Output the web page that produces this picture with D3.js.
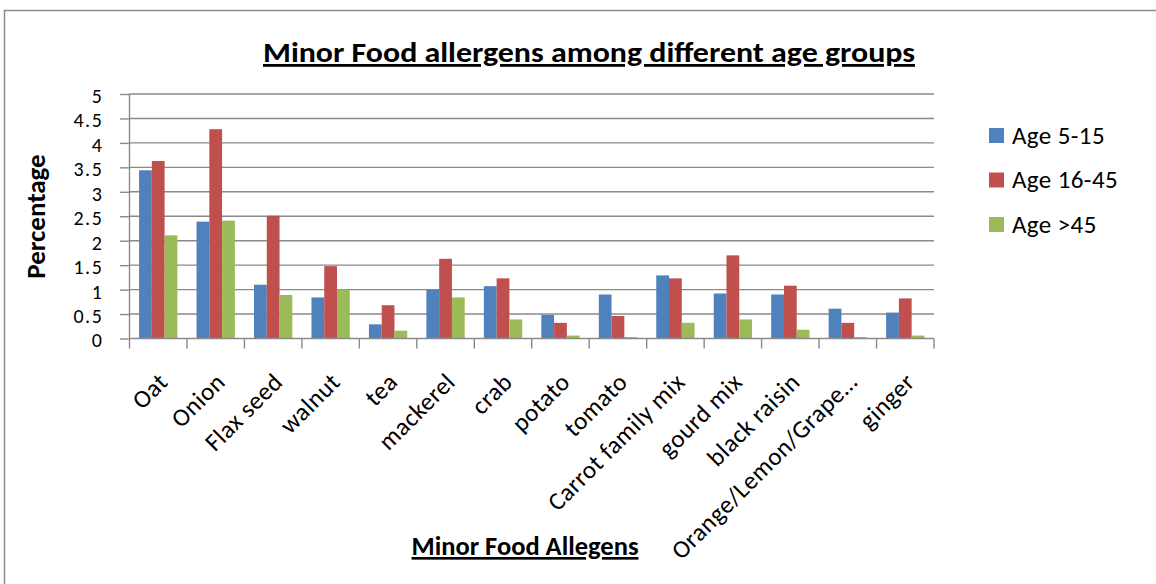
<!DOCTYPE html>
<html><head><meta charset="utf-8">
<script src="https://cdn.jsdelivr.net/npm/d3@7"></script>
<style>
html,body{margin:0;padding:0;background:#fff;}
text{font-family:Carlito,Calibri,Lato,"Open Sans",sans-serif;fill:#000;}
</style></head>
<body>
<svg id="chart" width="1156" height="584"></svg>
<script>
const categories = ["Oat","Onion","Flax seed","walnut","tea","mackerel","crab","potato","tomato","Carrot family mix","gourd mix","black raisin","Orange/Lemon/Grape…","ginger"];
const seriesNames = ["Age 5-15","Age 16-45","Age >45"];
const age5to15  = [3.44,2.39,1.10,0.84,0.29,1.00,1.07,0.48,0.90,1.29,0.92,0.90,0.61,0.53];
const age16to45 = [3.63,4.28,2.51,1.48,0.68,1.63,1.23,0.32,0.46,1.23,1.70,1.08,0.32,0.82];
const ageOver45 = [2.11,2.41,0.89,1.00,0.16,0.84,0.39,0.06,0.03,0.32,0.39,0.18,0.03,0.06];
const yTicks = [0,0.5,1,1.5,2,2.5,3,3.5,4,4.5,5];
const colors = ["#4F81BD","#C0504D","#9BBB59"];

const series = [age5to15, age16to45, ageOver45];
const svg = d3.select("#chart");
const pLeft = 129.5, pRight = 934, pTop = 94, pBottom = 338.5;
const gridColor = "#8a8a8a";

// outer frame
svg.append("rect").attr("x",4.5).attr("y",10.5).attr("width",1170).attr("height",600)
  .attr("fill","none").attr("stroke","#8c8c8c").attr("stroke-width",1.5);

const x = d3.scaleBand().domain(categories).range([pLeft,pRight]).paddingInner(0).paddingOuter(0);
const x1 = d3.scaleBand().domain(d3.range(3)).range([0,x.bandwidth()]).paddingOuter(0.75).paddingInner(0);
const y = d3.scaleLinear().domain([0,5]).range([pBottom,pTop]);

// gridlines
svg.append("g").selectAll("line").data(yTicks.filter(d=>d>0)).join("line")
  .attr("x1",pLeft).attr("x2",pRight).attr("y1",d=>y(d)).attr("y2",d=>y(d))
  .attr("stroke",gridColor).attr("stroke-width",1.4);

// bars
const groups = svg.append("g").selectAll("g").data(categories).join("g")
  .attr("transform",d=>`translate(${x(d)},0)`);
groups.selectAll("rect").data((d,i)=>series.map((s,k)=>({k,v:s[i]}))).join("rect")
  .attr("x",d=>x1(d.k)).attr("width",x1.bandwidth())
  .attr("y",d=>y(d.v)).attr("height",d=>y(0)-y(d.v))
  .attr("fill",d=>colors[d.k]);

// y axis
const yAxis = d3.axisLeft(y).tickValues(yTicks).tickSize(9.5).tickPadding(16.5).tickFormat(d=>String(d));
const ya = svg.append("g").attr("transform",`translate(${pLeft},0)`).call(yAxis);
ya.selectAll("path,line").attr("stroke",gridColor).attr("stroke-width",1.4);
ya.select("path").attr("d",`M0,${pTop}V${pBottom}`);
ya.selectAll("text").attr("font-size",20).attr("font-family",null).attr("fill","#000")
  .attr("letter-spacing",1.6).attr("dy","0.42em");

// x axis
const xAxis = d3.axisBottom(x).tickSize(0).tickFormat("");
const xa = svg.append("g").attr("transform",`translate(0,${pBottom})`).call(xAxis);
xa.select("path").attr("stroke",gridColor).attr("stroke-width",1.4).attr("d",`M${pLeft},0H${pRight}`);
svg.append("g").selectAll("line").data(d3.range(categories.length+1)).join("line")
  .attr("x1",i=>pLeft+i*x.step()).attr("x2",i=>pLeft+i*x.step())
  .attr("y1",pBottom).attr("y2",pBottom+10).attr("stroke",gridColor).attr("stroke-width",1.4);

// category labels
svg.append("g").selectAll("text").data(categories).join("text")
  .attr("transform",d=>`translate(${x(d)+x.bandwidth()/2+11},${pBottom+45}) rotate(-45)`)
  .attr("text-anchor","end").attr("font-size",25).attr("letter-spacing",0.5).text(d=>d);

// title
svg.append("text").attr("x",589).attr("y",62).attr("text-anchor","middle")
  .attr("font-size",28).attr("font-weight","bold").attr("text-decoration","underline")
  .attr("textLength",652).attr("lengthAdjust","spacingAndGlyphs")
  .text("Minor Food allergens among different age groups");

// y axis title
svg.append("text").attr("transform","translate(45,216.5) rotate(-90)").attr("text-anchor","middle")
  .attr("font-size",27).attr("font-weight","bold").text("Percentage");

// x axis title
svg.append("text").attr("x",525).attr("y",555).attr("text-anchor","middle")
  .attr("font-size",26.5).attr("font-weight","bold").attr("text-decoration","underline")
  .text("Minor Food Allegens");

// legend
const lg = svg.append("g").selectAll("g").data(seriesNames).join("g")
  .attr("transform",(d,i)=>`translate(989,${135.5+i*44.5})`);
lg.append("rect").attr("x",0).attr("y",-7.5).attr("width",15).attr("height",15).attr("fill",(d,i)=>colors[i]);
lg.append("text").attr("x",23).attr("y",8).attr("font-size",25).attr("letter-spacing",0.4).text(d=>d);
</script>
</body></html>
